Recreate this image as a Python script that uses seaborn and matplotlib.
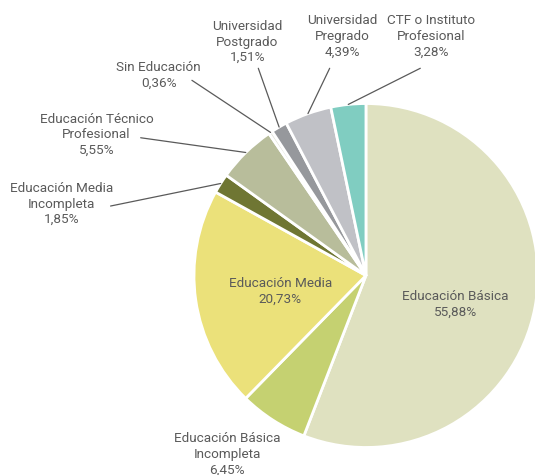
import numpy as np
import matplotlib
matplotlib.use("Agg")
import matplotlib.pyplot as plt
import seaborn as sns

categories = ["Educación Básica", "Educación Básica\nIncompleta", "Educación Media",
              "Educación Media\nIncompleta", "Educación Técnico\nProfesional", "Sin Educación",
              "Universidad\nPostgrado", "Universidad\nPregrado", "CTF o Instituto\nProfesional"]
shares = [55.88, 6.45, 20.73, 1.85, 5.55, 0.36, 1.51, 4.39, 3.28]
colors = ["#dfe1c0", "#c5d171", "#ebe17a", "#6f7633", "#b8bd9b",
          "#e4e5dc", "#96989c", "#c0c1c6", "#80cdc1"]

# label centres (data units, pie radius = 1) and leader line starts
label_pos = [(0.52, -0.17), (-0.807, -1.04), (-0.497, -0.094), (-1.772, 0.415),
             (-1.567, 0.819), (-1.205, 1.164), (-0.69, 1.357), (-0.14, 1.39), (0.38, 1.39)]
leader_start = [None, None, None, (-1.485, 0.404), (-1.31, 0.801), (-1.012, 1.135),
                (-0.626, 1.205), (-0.211, 1.205), (0.316, 1.205)]

sns.set_style("white")
plt.rcParams["font.family"] = ["Roboto", "DejaVu Sans"]

fig = plt.figure(figsize=(5.35, 4.75), dpi=100)
ax = fig.add_axes([0, 0, 1, 1])
wedges, _ = ax.pie(shares, colors=colors, startangle=90, counterclock=False,
                   wedgeprops=dict(edgecolor="white", linewidth=2))
ax.set_xlim(-2.128, 0.983)
ax.set_ylim(-1.16, 1.602)
ax.axis("off")

for w, cat, val, pos, start in zip(wedges, categories, shares, label_pos, leader_start):
    txt = f"{cat}\n{val:.2f}%".replace(".", ",")
    ax.text(pos[0], pos[1], txt, ha="center", va="center", fontsize=9.7,
            color="#5a5a5a", linespacing=1.25)
    if start is not None:
        ang = np.deg2rad((w.theta1 + w.theta2) / 2)
        ax.plot([start[0], np.cos(ang)], [start[1], np.sin(ang)],
                color="#5a5a5a", linewidth=0.9)

fig.savefig("out.png", dpi=100)
